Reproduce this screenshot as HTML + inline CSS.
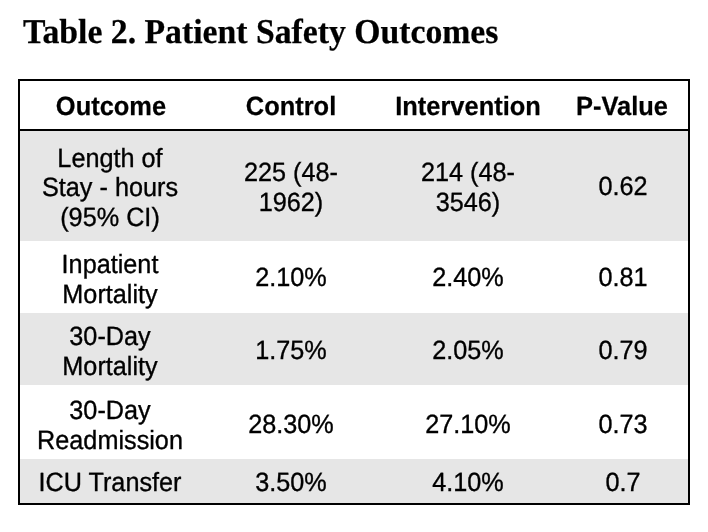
<!DOCTYPE html>
<html><head><meta charset="utf-8">
<style>
html,body{margin:0;padding:0;background:#fff;}
body{text-rendering:geometricPrecision;width:708px;height:532px;position:relative;overflow:hidden;font-family:"Liberation Sans",sans-serif;color:#000;}
.title{position:absolute;left:23px;top:13px;font-family:"Liberation Serif",serif;font-weight:bold;font-size:33.72px;line-height:40px;white-space:nowrap;-webkit-text-stroke:0.25px #000;transform:scaleY(1.03);transform-origin:0 77%;}
.frame{position:absolute;left:18px;top:79px;width:668px;height:422px;border:2px solid #000;}
.hr{position:absolute;left:20px;top:129px;width:668px;height:2px;background:#000;}
.band{position:absolute;left:20px;width:668px;background:#e6e6e6;}
.c{position:absolute;text-align:center;font-size:26.4px;line-height:29.5px;white-space:nowrap;-webkit-text-stroke:0.35px #000;transform:scaleX(0.9564);transform-origin:50% 50%;}
.m{line-height:29.5px;}
.h{font-weight:bold;font-size:26.4px;transform:scaleX(0.964);-webkit-text-stroke:0.25px #000;}
.c1{left:19px;width:182px;}
.c2{left:202px;width:178px;}
.c3{left:380px;width:176px;}
.c4{left:557px;width:132px;}
</style></head><body>
<div id="wrap" style="position:absolute;left:0;top:0;width:708px;height:532px;will-change:transform;">
<div class="title">Table 2. Patient Safety Outcomes</div>
<div class="band" style="top:131px;height:110px"></div>
<div class="band" style="top:313px;height:72px"></div>
<div class="band" style="top:459px;height:44px"></div>
<div class="frame"></div>
<div class="hr"></div>

<div class="c h c1" style="top:92px;left:20px">Outcome</div>
<div class="c h c2" style="top:92px;left:202.4px">Control</div>
<div class="c h c3" style="top:92px">Intervention</div>
<div class="c h c4" style="top:92px;left:556px">P-Value</div>

<div class="c m c1" style="top:143.5px">Length of<br>Stay - hours<br>(95% CI)</div>
<div class="c m c2" style="top:158px">225 (48-<br>1962)</div>
<div class="c m c3" style="top:158px">214 (48-<br>3546)</div>
<div class="c c4" style="top:172px">0.62</div>

<div class="c m c1" style="top:250px">Inpatient<br>Mortality</div>
<div class="c c2" style="top:263px">2.10%</div>
<div class="c c3" style="top:263px">2.40%</div>
<div class="c c4" style="top:263px">0.81</div>

<div class="c m c1" style="top:322px">30-Day<br>Mortality</div>
<div class="c c2" style="top:336px">1.75%</div>
<div class="c c3" style="top:336px">2.05%</div>
<div class="c c4" style="top:336px">0.79</div>

<div class="c m c1" style="top:396px">30-Day<br>Readmission</div>
<div class="c c2" style="top:410px">28.30%</div>
<div class="c c3" style="top:410px">27.10%</div>
<div class="c c4" style="top:410px">0.73</div>

<div class="c c1" style="top:468px">ICU Transfer</div>
<div class="c c2" style="top:468px">3.50%</div>
<div class="c c3" style="top:468px">4.10%</div>
<div class="c c4" style="top:468px">0.7</div>
</div>
</body></html>
